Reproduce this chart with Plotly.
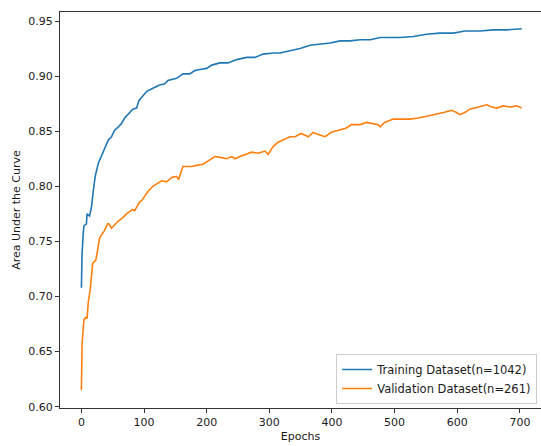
import plotly.graph_objects as go

train_epochs = [0, 1, 3, 4, 8, 9, 13, 16, 19, 22, 27, 32, 37, 43, 48, 53, 59, 64, 69, 75, 82, 88, 92, 98,
                104, 114, 125, 133, 138, 152, 162, 173, 181, 189, 200, 208, 221, 234, 248, 264, 277, 290,
                306, 317, 333, 349, 365, 381, 397, 413, 429, 445, 461, 477, 492, 508, 530, 551, 572, 594,
                612, 636, 657, 679, 703]
train_auc = [0.708, 0.739, 0.758, 0.764, 0.766, 0.775, 0.773, 0.781, 0.796, 0.809, 0.821, 0.828, 0.834,
             0.842, 0.845, 0.851, 0.854, 0.857, 0.862, 0.866, 0.870, 0.871, 0.878, 0.882, 0.886, 0.889,
             0.892, 0.893, 0.896, 0.898, 0.902, 0.902, 0.905, 0.906, 0.907, 0.910, 0.912, 0.912, 0.915,
             0.917, 0.917, 0.920, 0.921, 0.921, 0.923, 0.925, 0.928, 0.929, 0.930, 0.932, 0.932, 0.933,
             0.933, 0.935, 0.935, 0.935, 0.936, 0.938, 0.939, 0.939, 0.941, 0.941, 0.942, 0.942, 0.943]

val_epochs = [0, 1, 4, 7, 9, 11, 14, 18, 23, 29, 37, 42, 44, 48, 58, 65, 72, 82, 85, 93, 96, 106, 114,
              128, 136, 144, 152, 155, 162, 176, 184, 194, 205, 213, 224, 232, 240, 245, 253, 264, 272,
              282, 293, 298, 306, 314, 322, 333, 341, 351, 362, 370, 378, 389, 399, 413, 423, 431, 445,
              455, 466, 474, 477, 484, 498, 511, 524, 538, 548, 562, 578, 591, 599, 604, 612, 620, 634,
              647, 655, 663, 673, 684, 695, 703]
val_auc = [0.615, 0.657, 0.679, 0.681, 0.680, 0.695, 0.706, 0.730, 0.733, 0.753, 0.760, 0.766, 0.766,
           0.762, 0.768, 0.771, 0.775, 0.779, 0.778, 0.786, 0.787, 0.795, 0.800, 0.805, 0.804, 0.808,
           0.809, 0.806, 0.818, 0.818, 0.819, 0.820, 0.824, 0.827, 0.826, 0.825, 0.827, 0.825, 0.827,
           0.829, 0.831, 0.830, 0.832, 0.829, 0.836, 0.840, 0.842, 0.845, 0.845, 0.848, 0.845, 0.849,
           0.847, 0.845, 0.849, 0.851, 0.853, 0.856, 0.856, 0.858, 0.857, 0.856, 0.854, 0.858, 0.861,
           0.861, 0.861, 0.862, 0.863, 0.865, 0.867, 0.869, 0.867, 0.865, 0.867, 0.870, 0.872, 0.874,
           0.872, 0.871, 0.873, 0.872, 0.873, 0.871]

x_ticks = [0, 100, 200, 300, 400, 500, 600, 700]
y_ticks = [0.60, 0.65, 0.70, 0.75, 0.80, 0.85, 0.90, 0.95]

fig = go.Figure()
fig.add_trace(go.Scatter(x=train_epochs, y=train_auc, mode="lines",
                         name="Training Dataset(n=1042)",
                         line=dict(color="#1f77b4", width=1.6)))
fig.add_trace(go.Scatter(x=val_epochs, y=val_auc, mode="lines",
                         name="Validation Dataset(n=261)",
                         line=dict(color="#ff7f0e", width=1.6)))

font = dict(family="DejaVu Sans", size=11, color="#1a1a1a")
fig.update_layout(
    width=541, height=446,
    margin=dict(l=60, r=0, t=12, b=38),
    paper_bgcolor="white", plot_bgcolor="white",
    font=font,
    showlegend=True,
    legend=dict(x=0.992, y=0.01, xanchor="right", yanchor="bottom",
                bgcolor="rgba(255,255,255,0.8)", bordercolor="#cccccc", borderwidth=1,
                font=dict(family="DejaVu Sans", size=11.5, color="#1a1a1a"),
                tracegroupgap=0),
)
fig.update_xaxes(range=[-34.2, 733.7], tickvals=x_ticks, ticktext=[str(v) for v in x_ticks],
                 showgrid=False, zeroline=False, showline=True, linecolor="#333333", linewidth=1,
                 mirror=True, ticks="outside", ticklen=4, tickcolor="#333333", automargin=False,
                 title=dict(text="Epochs", standoff=4, font=font))
fig.update_yaxes(range=[0.5988, 0.9582], tickvals=y_ticks, ticktext=[f"{v:.2f}" for v in y_ticks],
                 showgrid=False, zeroline=False, showline=True, linecolor="#333333", linewidth=1,
                 mirror=False, ticks="outside", ticklen=4, tickcolor="#333333", automargin=False,
                 title=dict(text="Area Under the Curve", standoff=5, font=font))

fig.write_html("out.html", config={"displayModeBar": False},
               post_script="document.body.style.margin='0';document.body.style.overflow='hidden';")
